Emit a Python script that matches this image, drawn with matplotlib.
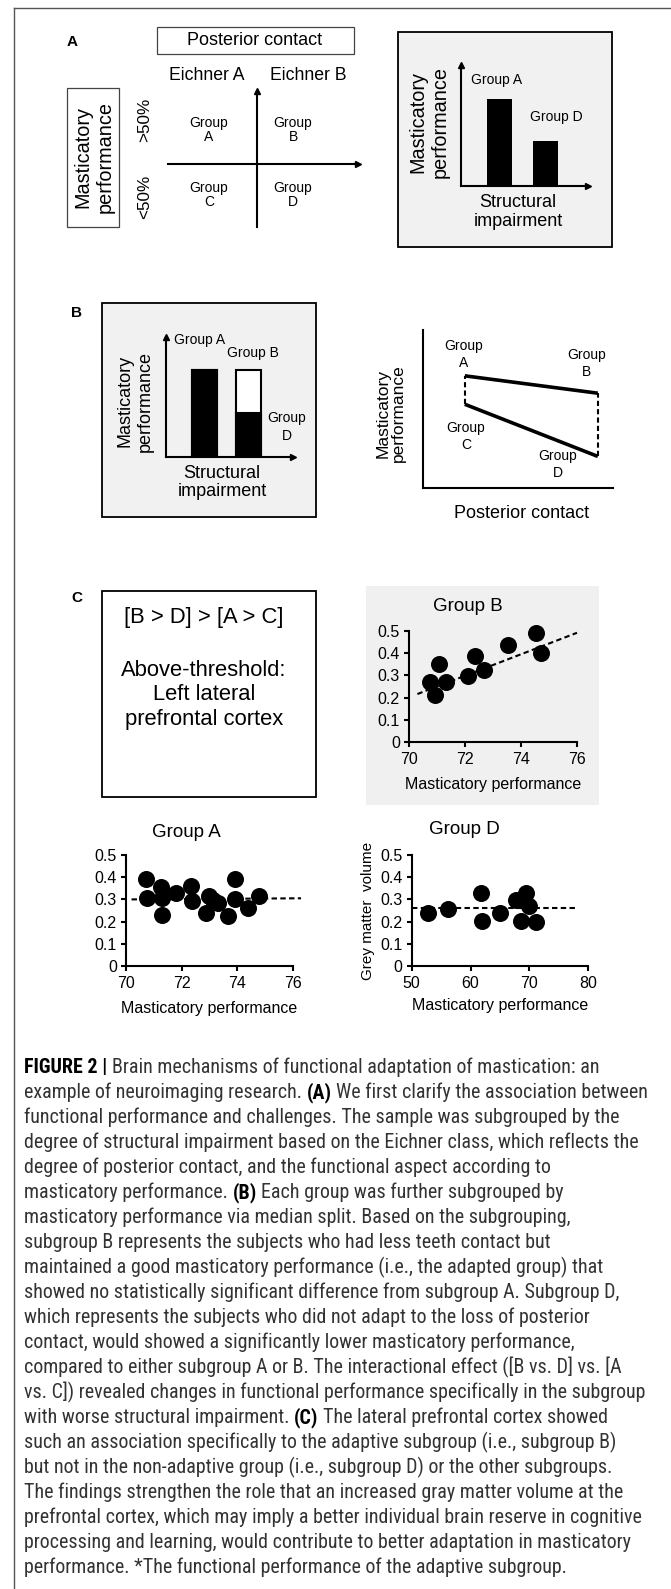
import matplotlib.pyplot as plt
from matplotlib import font_manager
from matplotlib.patches import Rectangle

W, H = 671, 1589

# schematic values (relative masticatory performance)
barA_groups = ["Group A", "Group D"]
barA_perf = [0.72, 0.37]
barB_groups = ["Group A", "Group B"]
barB_perf = [0.725, 0.725]
barB_low = [0.725, 0.367]          # black part of bar B = group D
contact = [0.22, 0.92]             # Eichner A, Eichner B
perf_high = [0.71, 0.60]           # group A, group B
perf_low = [0.53, 0.20]            # group C, group D

# panel C scatter data (grey matter volume vs masticatory performance)
grpB_x = [70.75, 70.93, 71.07, 71.32, 72.10, 72.35, 72.68, 73.55, 74.54, 74.73]
grpB_y = [0.272, 0.212, 0.350, 0.272, 0.297, 0.387, 0.324, 0.437, 0.490, 0.402]
grpB_fit_x = [70.3, 76.0]
grpB_fit_y = [0.216, 0.492]

grpA_x = [70.72, 70.74, 71.26, 71.31, 71.28, 71.80, 72.34, 72.39, 72.88,
          73.00, 73.14, 73.32, 73.68, 73.93, 73.93, 74.40, 74.80]
grpA_y = [0.390, 0.305, 0.357, 0.305, 0.230, 0.327, 0.360, 0.294, 0.240,
          0.315, 0.297, 0.282, 0.225, 0.390, 0.300, 0.263, 0.315]
grpA_fit_x = [70.2, 76.3]
grpA_fit_y = [0.300, 0.305]

grpD_x = [52.8, 56.2, 61.8, 61.9, 65.0, 67.8, 69.35, 69.97, 68.5, 71.1]
grpD_y = [0.240, 0.257, 0.327, 0.203, 0.240, 0.297, 0.327, 0.270, 0.203, 0.197]
grpD_fit_x = [50.0, 77.7]
grpD_fit_y = [0.263, 0.263]

yticks = [0, 0.1, 0.2, 0.3, 0.4, 0.5]
ytick_labels = ["0", "0.1", "0.2", "0.3", "0.4", "0.5"]

caption = [
    [("FIGURE 2 |", True), ("Brain mechanisms of functional adaptation of mastication: an", False)],
    [("example of neuroimaging research.", False), ("(A)", True), ("We first clarify the association between", False)],
    [("functional performance and challenges. The sample was subgrouped by the", False)],
    [("degree of structural impairment based on the Eichner class, which reflects the", False)],
    [("degree of posterior contact, and the functional aspect according to", False)],
    [("masticatory performance.", False), ("(B)", True), ("Each group was further subgrouped by", False)],
    [("masticatory performance via median split. Based on the subgrouping,", False)],
    [("subgroup B represents the subjects who had less teeth contact but", False)],
    [("maintained a good masticatory performance (i.e., the adapted group) that", False)],
    [("showed no statistically significant difference from subgroup A. Subgroup D,", False)],
    [("which represents the subjects who did not adapt to the loss of posterior", False)],
    [("contact, would showed a significantly lower masticatory performance,", False)],
    [("compared to either subgroup A or B. The interactional effect ([B vs. D] vs. [A", False)],
    [("vs. C]) revealed changes in functional performance specifically in the subgroup", False)],
    [("with worse structural impairment.", False), ("(C)", True), ("The lateral prefrontal cortex showed", False)],
    [("such an association specifically to the adaptive subgroup (i.e., subgroup B)", False)],
    [("but not in the non-adaptive group (i.e., subgroup D) or the other subgroups.", False)],
    [("The findings strengthen the role that an increased gray matter volume at the", False)],
    [("prefrontal cortex, which may imply a better individual brain reserve in cognitive", False)],
    [("processing and learning, would contribute to better adaptation in masticatory", False)],
    [("performance. *The functional performance of the adaptive subgroup.", False)],
]

plt.rcParams["font.family"] = ["Liberation Sans", "DejaVu Sans"]

# the caption in the original uses a condensed sans; take one if installed
cap_family = ["Liberation Sans", "DejaVu Sans"]
for cand in ["Liberation Sans Narrow", "Roboto Condensed", "Arial Narrow", "Nimbus Sans Narrow"]:
    try:
        font_manager.findfont(cand, fallback_to_default=False)
        cap_family = [cand, "DejaVu Sans"]
        break
    except ValueError:
        pass

fig = plt.figure(figsize=(W / 100, H / 100), dpi=100)
bg = fig.add_axes([0, 0, 1, 1])
bg.set_xlim(0, W)
bg.set_ylim(H, 0)
bg.axis("off")


def px_axes(x0, y0, x1, y1):
    return fig.add_axes([x0 / W, 1 - y1 / H, (x1 - x0) / W, (y1 - y0) / H])


def box(x0, y0, x1, y1, fc="none", ec="k", lw=1.0):
    bg.add_patch(Rectangle((x0, y0), x1 - x0, y1 - y0, fc=fc, ec=ec, lw=lw))


def plain_axes(ax, lw=1.5):
    ax.set_facecolor("none")
    for s in ["top", "right"]:
        ax.spines[s].set_visible(False)
    for s in ["left", "bottom"]:
        ax.spines[s].set_linewidth(lw)
    ax.set_xticks([])
    ax.set_yticks([])


def arrow_heads(ax, tx, ty, ms=5):
    ax.plot(1, 0, ">k", ms=ms, transform=tx, clip_on=False)
    ax.plot(0, 1, "^k", ms=ms, transform=ty, clip_on=False)


# outer frame
bg.plot([14, 14], [8, H], color="#555555", lw=1)
bg.plot([14, W], [8, 8], color="#555555", lw=1)

# ---------------- panel A ----------------
bg.text(72, 42, "A", fontsize=11, fontweight="bold", ha="center", va="center")
box(157, 27, 354, 54, ec="#444444", lw=0.9)
bg.text(255, 40.5, "Posterior contact", fontsize=13, ha="center", va="center")
bg.text(207, 76, "Eichner A", fontsize=12.7, ha="center", va="center")
bg.text(308, 76, "Eichner B", fontsize=12.7, ha="center", va="center")
box(67, 88, 119, 227, ec="#444444", lw=0.9)
bg.text(94, 157, "Masticatory\nperformance", fontsize=14.3, rotation=90,
        ha="center", va="center", multialignment="center", linespacing=1.2)
bg.text(145, 120, ">50%", fontsize=12.3, rotation=90, ha="center", va="center")
bg.text(145, 197, "<50%", fontsize=12.3, rotation=90, ha="center", va="center")

q = px_axes(168, 91, 358, 227)
plain_axes(q)
q.set_xlim(-89, 101)
q.set_ylim(-63, 73)
q.spines["left"].set_position(("data", 0))
q.spines["bottom"].set_position(("data", 0))
arrow_heads(q, q.get_yaxis_transform(), q.get_xaxis_transform())
for lab, xq, yq in [("Group\nA", -48, 34), ("Group\nB", 36, 34),
                    ("Group\nC", -48, -31), ("Group\nD", 36, -31)]:
    q.text(xq, yq, lab, fontsize=10, ha="center", va="center", linespacing=1.05)

box(398, 32, 612, 247, fc="#f1f1f1", ec="k", lw=1.3)
ba = px_axes(461, 65, 588, 186)
plain_axes(ba)
ba.bar(range(len(barA_perf)), barA_perf, width=0.54, color="k")
ba.set_xlim(-0.837, 1.924)
ba.set_ylim(0, 1)
arrow_heads(ba, ba.transAxes, ba.transAxes)
for i, (g, v, dx, dy) in enumerate(zip(barA_groups, barA_perf, [-2.5, 10.5], [19, 24])):
    ba.annotate(g, (i, v), xytext=(dx, dy), textcoords="offset pixels",
                fontsize=10, ha="center", va="center")
bg.text(429, 122, "Masticatory\nperformance", fontsize=14.3, rotation=90,
        ha="center", va="center", multialignment="center", linespacing=1.2)
bg.text(518, 212, "Structural\nimpairment", fontsize=13, ha="center", va="center",
        linespacing=1.1)

# ---------------- panel B ----------------
bg.text(77, 313, "B", fontsize=11, fontweight="bold", ha="center", va="center")
box(102, 303, 316, 517, fc="#f1f1f1", ec="k", lw=1.3)
bb = px_axes(166, 337, 293, 457)
plain_axes(bb)
bb.bar(range(len(barB_perf)), barB_perf, width=0.55, color="white", edgecolor="k", lw=1.5)
bb.bar(range(len(barB_low)), barB_low, width=0.55, color="k", edgecolor="k", lw=1.5)
bb.set_xlim(-0.875, 2.01)
bb.set_ylim(0, 1)
arrow_heads(bb, bb.transAxes, bb.transAxes)
for i, (g, v, dx, dy) in enumerate(zip(barB_groups, barB_perf, [-4.5, 4.5], [30, 17])):
    bb.annotate(g, (i, v), xytext=(dx, dy), textcoords="offset pixels",
                fontsize=10, ha="center", va="center")
bb.annotate("Group\nD", (1, barB_low[1]), xytext=(38.5, -14), textcoords="offset pixels",
            fontsize=10, ha="center", va="center", linespacing=1.3)
bg.text(135, 401, "Masticatory\nperformance", fontsize=13, rotation=90,
        ha="center", va="center", multialignment="center", linespacing=1.2)
bg.text(222, 482.5, "Structural\nimpairment", fontsize=13, ha="center", va="center",
        linespacing=1.1)

bl = px_axes(423, 330, 613, 488)
plain_axes(bl, lw=1.5)
bl.set_xlim(0, 1)
bl.set_ylim(0, 1)
bl.plot(contact, perf_high, color="k", lw=2.6, solid_capstyle="butt")
bl.plot(contact, perf_low, color="k", lw=2.6, solid_capstyle="butt")
for i in range(len(contact)):
    bl.plot([contact[i]] * 2, [perf_low[i], perf_high[i]], color="k", lw=1.5,
            dashes=(2.5, 1.5))
for lab, xv, yv, dx, dy in [("Group\nA", contact[0], perf_high[0], -1, 21),
                            ("Group\nB", contact[1], perf_high[1], -11, 30),
                            ("Group\nC", contact[0], perf_low[0], 1, -32),
                            ("Group\nD", contact[1], perf_low[1], -40, -8)]:
    bl.annotate(lab, (xv, yv), xytext=(dx, dy), textcoords="offset pixels",
                fontsize=10, ha="center", va="center", linespacing=1.25)
bg.text(391, 413, "Masticatory\nperformance", fontsize=12.5, rotation=90,
        ha="center", va="center", multialignment="center", linespacing=1.05)
bg.text(522, 513, "Posterior contact", fontsize=13, ha="center", va="center")

# ---------------- panel C ----------------
bg.text(77, 598, "C", fontsize=11, fontweight="bold", ha="center", va="center")
box(102, 591, 316, 797, ec="k", lw=1.3)
bg.text(204, 617, "[B > D] > [A > C]", fontsize=15.8, ha="center", va="center")
bg.text(204, 695, "Above-threshold:\nLeft lateral\nprefrontal cortex", fontsize=15.8,
        ha="center", va="center", linespacing=1.22)
bg.add_patch(Rectangle((366, 586), 233, 219, fc="#f0f0f0", ec="none"))


def scatter_panel(ax, x, y, fx, fy, xlim, xticks, title, tx, ty, xpad):
    ax.set_facecolor("none")
    ax.scatter(x, y, s=150, color="k", lw=0, zorder=3, clip_on=False)
    ax.plot(fx, fy, color="k", lw=1.5, dashes=(2.6, 1.6), clip_on=False)
    ax.set_xlim(xlim)
    ax.set_ylim(0, 0.5)
    ax.set_xticks(xticks)
    ax.set_yticks(yticks)
    ax.set_yticklabels(ytick_labels)
    for s in ["top", "right"]:
        ax.spines[s].set_visible(False)
    for s in ["left", "bottom"]:
        ax.spines[s].set_linewidth(1.5)
    ax.tick_params(length=3.5, width=1.5, labelsize=11.5, pad=3)
    ax.tick_params(axis="x", pad=4)
    ax.text(tx, ty, title, fontsize=13.5, ha="center", va="center", transform=ax.transAxes)
    ax.set_xlabel("Masticatory performance", fontsize=11.5, labelpad=xpad)


sB = px_axes(409, 631, 577, 742)
scatter_panel(sB, grpB_x, grpB_y, grpB_fit_x, grpB_fit_y, (70, 76), [70, 72, 74, 76],
              "Group B", 0.35, 1.225, 7)
sA = px_axes(126, 855, 292.7, 966)
scatter_panel(sA, grpA_x, grpA_y, grpA_fit_x, grpA_fit_y, (70, 76), [70, 72, 74, 76],
              "Group A", 0.36, 1.2, 7)
sD = px_axes(411.7, 855, 588.3, 966)
scatter_panel(sD, grpD_x, grpD_y, grpD_fit_x, grpD_fit_y, (50, 80), [50, 60, 70, 80],
              "Group D", 0.30, 1.23, 5)
sD.set_ylabel("Grey matter  volume", fontsize=11, labelpad=4)

# ---------------- caption ----------------
fig.canvas.draw()
rend = fig.canvas.get_renderer()


def text_w(s, size, bold=False):
    t = bg.text(0, 0, s, fontsize=size, family=cap_family,
                fontweight="bold" if bold else "normal")
    w = t.get_window_extent(rend).width
    t.remove()
    return w


def line_w(segs, size):
    sp = text_w("a a", size) - text_w("aa", size)
    return sum(text_w(s, size, b) for s, b in segs) + sp * (len(segs) - 1)


# fit caption font so that the second line spans the text column (24..645 px)
cap_size = 10 * 621 / line_w(caption[1], 10)
space = text_w("a a", cap_size) - text_w("aa", cap_size)
for i, segs in enumerate(caption):
    x = 24
    y = 1073 + i * 25.0
    for s, b in segs:
        t = bg.text(x, y, s, fontsize=cap_size, va="baseline", family=cap_family,
                    fontweight="bold" if b else "normal",
                    color="k" if b else "#333333")
        x += t.get_window_extent(rend).width + space

fig.savefig("out.png", dpi=100)
